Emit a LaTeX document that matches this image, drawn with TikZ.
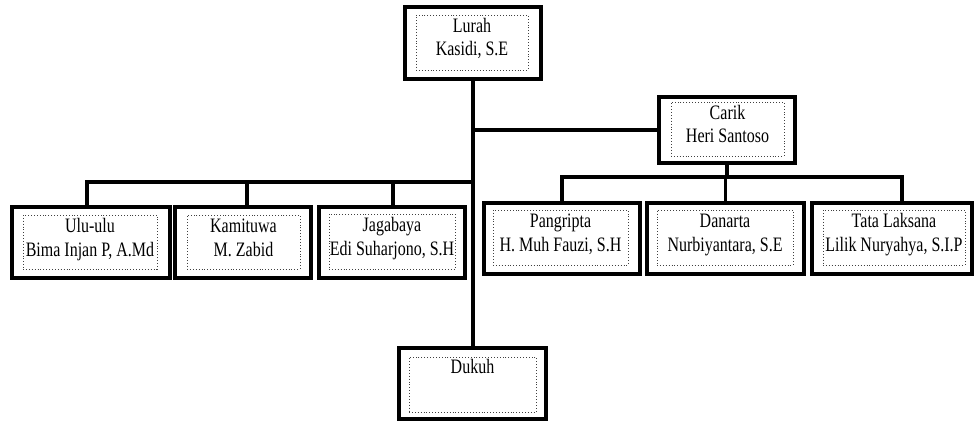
\documentclass[tikz,border=0pt]{standalone}
\usepackage{fontspec}
\setmainfont{Liberation Serif}
\newcommand\narrowtxt[1]{\scalebox{0.78}[1]{#1}}
\begin{document}
\begin{tikzpicture}[x=1pt,y=-1pt,
  outerbox/.style={draw=black,line width=4.2pt,rectangle,inner sep=0pt,fill=white},
  innerbox/.style={draw=black!75,dotted,line width=0.9pt,rectangle,inner sep=0pt},
  lbl/.style={inner sep=0pt,anchor=base,font=\fontsize{20.5}{24}\selectfont},
  conn/.style={draw=black,line width=3.2pt}]
\useasboundingbox (0,0) rectangle (974,421);
\coordinate (jC) at (473,130);
\coordinate (jL) at (473,182);
\coordinate (jR) at (727,177);
% outer boxes
\node[outerbox,minimum width=136pt,minimum height=72pt] (lurah) at (473,43) {};
\node[outerbox,minimum width=136pt,minimum height=66pt] (carik) at (727,130) {};
\node[outerbox,minimum width=158pt,minimum height=71pt] (ulu) at (91,242.5) {};
\node[outerbox,minimum width=136pt,minimum height=71pt] (kam) at (243,242.5) {};
\node[outerbox,minimum width=146pt,minimum height=71pt] (jag) at (392,242.5) {};
\node[outerbox,minimum width=156pt,minimum height=71pt] (pan) at (562,238.5) {};
\node[outerbox,minimum width=157pt,minimum height=71pt] (dan) at (725.5,238.5) {};
\node[outerbox,minimum width=160pt,minimum height=71pt] (tata) at (892,238.5) {};
\node[outerbox,minimum width=147pt,minimum height=71pt] (dukuh) at (472.5,383.5) {};
% connectors
\draw[conn] (lurah.south) -- (lurah.south |- dukuh.north);
\draw[conn] (jC) -- (carik.west);
\draw[conn] ([xshift=-4pt]ulu.north) |- (jL);
\draw[conn] ([xshift=4pt]kam.north) -- ([xshift=4pt]kam.north |- jL);
\draw[conn] ([xshift=1pt]jag.north) -- ([xshift=1pt]jag.north |- jL);
\draw[conn] (carik.south) -- (jR);
\draw[conn] (pan.north) |- (jR) -| ([xshift=10pt]tata.north);
\draw[conn] (dan.north) -- (dan.north |- jR);
% inner dotted boxes
\node[innerbox,minimum width=112pt,minimum height=55pt] (lurahI) at (472,42.5) {};
\node[innerbox,minimum width=113pt,minimum height=54pt] (carikI) at (727.5,129) {};
\node[innerbox,minimum width=134pt,minimum height=54pt] (uluI) at (90,242) {};
\node[innerbox,minimum width=113pt,minimum height=54pt] (kamI) at (243.5,242) {};
\node[innerbox,minimum width=126pt,minimum height=55pt] (jagI) at (392,241.5) {};
\node[innerbox,minimum width=135pt,minimum height=55pt] (panI) at (560.5,237.5) {};
\node[innerbox,minimum width=136pt,minimum height=55pt] (danI) at (725,237.5) {};
\node[innerbox,minimum width=142pt,minimum height=55pt] (tataI) at (894,237.5) {};
\node[innerbox,minimum width=127pt,minimum height=55pt] (dukuhI) at (472.5,384.5) {};
% labels
\node[lbl] (lurahA) at (472,32) {\narrowtxt{Lurah}};
\node[lbl] (lurahB) at (472,55) {\narrowtxt{Kasidi, S.E}};
\node[lbl] (carikA) at (727.5,119) {\narrowtxt{Carik}};
\node[lbl] (carikB) at (727.5,142) {\narrowtxt{Heri Santoso}};
\node[lbl] (uluA) at (90,232.5) {\narrowtxt{Ulu-ulu}};
\node[lbl] (uluB) at (90,256) {\narrowtxt{Bima Injan P, A.Md}};
\node[lbl] (kamA) at (243.5,232.5) {\narrowtxt{Kamituwa}};
\node[lbl] (kamB) at (243.5,256) {\narrowtxt{M. Zabid}};
\node[lbl] (jagA) at (392,231.5) {\narrowtxt{Jagabaya}};
\node[lbl] (jagB) at (392,255) {\narrowtxt{Edi Suharjono, S.H}};
\node[lbl] (panA) at (560.5,227.5) {\narrowtxt{Pangripta}};
\node[lbl] (panB) at (560.5,251) {\narrowtxt{H. Muh Fauzi, S.H}};
\node[lbl] (danA) at (725,227.5) {\narrowtxt{Danarta}};
\node[lbl] (danB) at (725,251) {\narrowtxt{Nurbiyantara, S.E}};
\node[lbl] (tataA) at (894,227.5) {\narrowtxt{Tata Laksana}};
\node[lbl] (tataB) at (894,251) {\narrowtxt{Lilik Nuryahya, S.I.P}};
\node[lbl] (dukuhA) at (472.5,373.5) {\narrowtxt{Dukuh}};
\end{tikzpicture}
\end{document}
